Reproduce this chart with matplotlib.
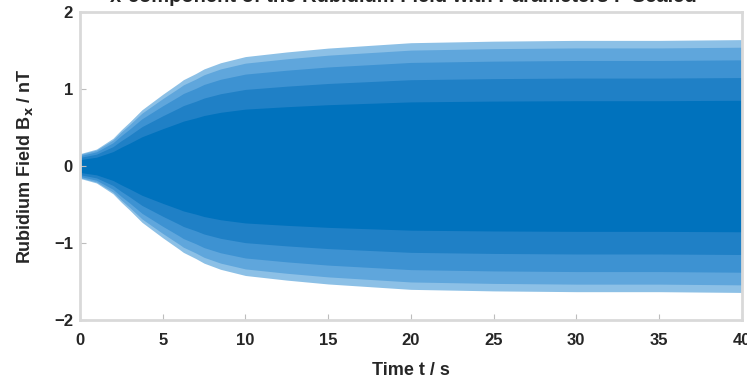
import matplotlib
matplotlib.use('Agg')
import matplotlib.pyplot as plt
import numpy as np

plt.rcParams['font.family'] = ['Liberation Sans', 'DejaVu Sans']

# envelope of the oscillating field
t_env = [0, 1, 2, 2.5, 3, 3.75, 4.5, 5, 6, 6.25, 7, 7.5, 8.5, 10, 12.5, 15, 20, 25, 30, 35, 40]
amp_env = [0.16, 0.22, 0.36, 0.47, 0.57, 0.73, 0.85, 0.93, 1.08, 1.12, 1.2, 1.26, 1.34, 1.42, 1.48, 1.53, 1.6, 1.62, 1.63, 1.63, 1.64]

# shading layers (fraction of envelope, colour) to mimic the dense oscillation
layer_frac = [1.0, 0.94, 0.84, 0.7, 0.52]
layer_col = ['#8cc0e6', '#5fa6dc', '#3d92d2', '#1f80c6', '#0072bd']

t = np.array(t_env)
a = np.array(amp_env)

fig = plt.figure(figsize=(7.47, 3.83), dpi=100)
ax = fig.add_axes([0.107, 0.164, 0.886, 0.805])

for f, c in zip(layer_frac, layer_col):
    ax.fill_between(t, -a * f, a * f, color=c, linewidth=0)

ax.set_xlim(0, 40)
ax.set_ylim(-2, 2)
ax.set_xticks(np.arange(0, 41, 5))
ax.set_yticks([-2, -1, 0, 1, 2])
for s in ax.spines.values():
    s.set_color('#d9d9d9')
    s.set_linewidth(2)
ax.tick_params(direction='in', length=4, color='#bdbdbd', labelsize=12,
               labelcolor='#262626')
ax.tick_params(axis='x', pad=9)
ax.tick_params(axis='y', pad=5)
for lab in ax.get_xticklabels() + ax.get_yticklabels():
    lab.set_fontweight('bold')

ax.set_xlabel('Time t / s', fontsize=13, fontweight='bold', color='#262626', labelpad=10)
ax.set_ylabel('Rubidium Field B$_\\mathbf{x}$ / nT', fontsize=13, fontweight='bold',
              color='#262626', labelpad=14)
# title sits mostly above the top edge, as in the original
fig.text(0.54, 1.01, 'x-component of the Rubidium Field with Parameters F Scaled',
         ha='center', va='center', fontsize=14.5, fontweight='bold', color='#262626')

fig.savefig('out.png', dpi=100)
